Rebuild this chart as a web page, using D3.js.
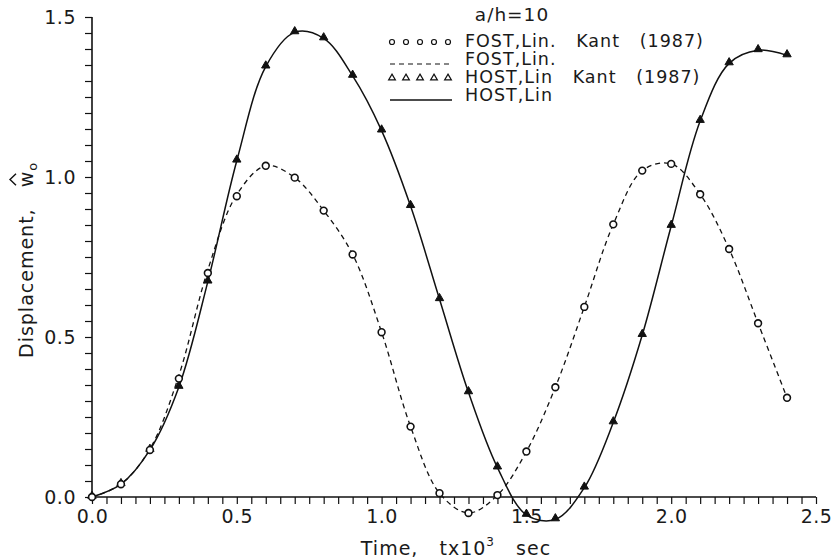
<!DOCTYPE html>
<html>
<head>
<meta charset="utf-8">
<script src="https://cdn.jsdelivr.net/npm/d3@7"></script>
<style>
  html, body { margin: 0; padding: 0; background: #fff; }
  svg text { font-family: "DejaVu Sans", "Liberation Sans", Arial, sans-serif; fill: #1a1a1a; }
</style>
</head>
<body>
<svg id="chart" width="836" height="560"></svg>
<script>
// ---- data ----
const times = [0.0,0.1,0.2,0.3,0.4,0.5,0.6,0.7,0.8,0.9,1.0,1.1,1.2,1.3,1.4,1.5,1.6,1.7,1.8,1.9,2.0,2.1,2.2,2.3,2.4];
const fostKant = [0.0,0.04,0.147,0.37,0.70,0.94,1.035,0.998,0.895,0.758,0.515,0.22,0.012,-0.05,0.006,0.142,0.343,0.594,0.852,1.02,1.041,0.946,0.775,0.543,0.31];
const fostLin  = [0.0,0.04,0.150,0.38,0.71,0.945,1.035,0.998,0.895,0.758,0.515,0.22,0.012,-0.05,0.006,0.142,0.343,0.594,0.852,1.02,1.041,0.946,0.775,0.543,0.31];
const hostKant = [0.0,0.04,0.147,0.344,0.673,1.051,1.345,1.452,1.433,1.316,1.145,0.909,0.618,0.327,0.092,-0.056,-0.07,0.029,0.233,0.506,0.847,1.175,1.355,1.396,1.38];
const hostLin  = [0.0,0.04,0.147,0.344,0.673,1.051,1.345,1.452,1.433,1.316,1.145,0.909,0.618,0.327,0.092,-0.056,-0.07,0.029,0.233,0.506,0.847,1.175,1.355,1.396,1.38];
const xTickLabels = ["0.0","0.5","1.0","1.5","2.0","2.5"];
const yTickLabels = ["0.0","0.5","1.0","1.5"];
const legendTitle = "a/h=10";
const legendLabels = ["FOST,Lin.   Kant   (1987)", "FOST,Lin.", "HOST,Lin   Kant   (1987)", "HOST,Lin"];

// ---- layout ----
const svg = d3.select("#chart");
const x = d3.scaleLinear().domain([0, 2.5]).range([92, 816]);
const y = d3.scaleLinear().domain([0, 1.5]).range([497, 17]);
const ink = "#111";
const FONT = "DejaVu Sans, Liberation Sans, sans-serif";

// x axis
const xTicks = d3.range(0, 51).map(i => i * 0.05);
const xAxis = d3.axisBottom(x).tickValues(xTicks).tickSize(7)
  .tickFormat((d, i) => (i % 10 === 0 ? xTickLabels[i / 10] : ""));
const gx = svg.append("g").attr("transform", `translate(0,${y(0)})`).call(xAxis);
gx.select(".domain").attr("stroke", ink).attr("stroke-width", 1.6).attr("d", `M${x(0)},0H${x(2.5)}`);
gx.selectAll(".tick line").attr("stroke", ink).attr("stroke-width", 1.2);
gx.selectAll(".tick text").attr("font-size", 19).attr("dy", "0.85em").attr("fill", "#1a1a1a")
  .attr("font-family", FONT).attr("letter-spacing", "0.5px");

// y axis
const yTicks = d3.range(0, 31).map(i => i * 0.05);
const yAxis = d3.axisLeft(y).tickValues(yTicks).tickSize(7)
  .tickFormat((d, i) => (i % 10 === 0 ? yTickLabels[i / 10] : ""));
const gy = svg.append("g").attr("transform", `translate(${x(0)},0)`).call(yAxis);
gy.select(".domain").attr("stroke", ink).attr("stroke-width", 1.6).attr("d", `M0,${y(0)}V${y(1.5)}`);
gy.selectAll(".tick line").attr("stroke", ink).attr("stroke-width", 1.2);
gy.selectAll(".tick text").attr("font-size", 19).attr("x", -16).attr("fill", "#1a1a1a")
  .attr("font-family", FONT).attr("letter-spacing", "0.5px");

// axis titles
const xt = svg.append("text").attr("x", 456).attr("y", 555).attr("text-anchor", "middle")
  .attr("font-size", 19).attr("letter-spacing", "1px").style("white-space", "pre");
xt.append("tspan").text("Time,   tx10");
xt.append("tspan").attr("font-size", 12).attr("dy", -9).text("3");
xt.append("tspan").attr("dy", 9).text("   sec");

const LS = 1;
const yt = svg.append("g").attr("transform", "translate(33,358) rotate(-90)");
const ytt = yt.append("text").attr("x", 0).attr("y", 0).attr("font-size", 19)
  .attr("letter-spacing", LS + "px").style("white-space", "pre");
ytt.append("tspan").text("Displacement,   ");
ytt.append("tspan").text("w");
ytt.append("tspan").attr("font-size", 13).attr("dy", 4).text("o");
const measure = yt.append("text").attr("font-size", 19).attr("letter-spacing", LS + "px")
  .style("white-space", "pre").attr("visibility", "hidden");
const preLen = measure.text("Displacement,   ").node().getComputedTextLength();
const wLen = measure.text("w").node().getComputedTextLength() - LS;
measure.remove();
// hat over w
yt.append("path")
  .attr("d", `M${preLen + 2},-17L${preLen + wLen / 2},-23L${preLen + wLen - 2},-17`)
  .attr("fill", "none").attr("stroke", ink).attr("stroke-width", 1.4);

// curves
const line = d3.line().x(d => x(d[0])).y(d => y(d[1])).curve(d3.curveCatmullRom.alpha(0.5));
svg.append("path").datum(times.map((t, i) => [t, fostLin[i]]))
  .attr("d", line).attr("fill", "none").attr("stroke", ink).attr("stroke-width", 1.3)
  .attr("stroke-dasharray", "5,4");
svg.append("path").datum(times.map((t, i) => [t, hostLin[i]]))
  .attr("d", line).attr("fill", "none").attr("stroke", ink).attr("stroke-width", 1.5);

// markers
const tri = d3.symbol().type(d3.symbolTriangle).size(30);
svg.append("g").selectAll("path").data(times.map((t, i) => [t, hostKant[i]])).join("path")
  .attr("d", tri).attr("transform", d => `translate(${x(d[0])},${y(d[1]) - 1})`)
  .attr("fill", ink).attr("stroke", ink).attr("stroke-width", 1);
svg.append("g").selectAll("circle").data(times.map((t, i) => [t, fostKant[i]])).join("circle")
  .attr("cx", d => x(d[0])).attr("cy", d => y(d[1])).attr("r", 3.4)
  .attr("fill", "#fff").attr("stroke", ink).attr("stroke-width", 1.6);

// legend
const lg = svg.append("g");
lg.append("text").attr("x", 512).attr("y", 21).attr("text-anchor", "middle").attr("font-size", 18.5)
  .attr("letter-spacing", "1px").text(legendTitle);
const rowY = [41, 59, 77, 95];
const lx0 = 392, lx1 = 450;
legendLabels.forEach((lab, i) => {
  lg.append("text").attr("x", 465).attr("y", rowY[i] + 6).attr("font-size", 17.5)
    .attr("letter-spacing", "1px").style("white-space", "pre").text(lab);
});
const mk = d3.range(5).map(k => lx0 + k * 14);
lg.append("g").selectAll("circle").data(mk).join("circle")
  .attr("cx", d => d).attr("cy", rowY[0] + 1).attr("r", 2.5)
  .attr("fill", "#fff").attr("stroke", ink).attr("stroke-width", 1.2);
lg.append("line").attr("x1", lx0 - 2).attr("x2", lx1 + 2).attr("y1", rowY[1] + 5).attr("y2", rowY[1] + 5)
  .attr("stroke", ink).attr("stroke-width", 1.2).attr("stroke-dasharray", "5,4");
const tri2 = d3.symbol().type(d3.symbolTriangle).size(20);
lg.append("g").selectAll("path").data(mk).join("path")
  .attr("d", tri2).attr("transform", d => `translate(${d},${rowY[2] + 1})`)
  .attr("fill", "#fff").attr("stroke", ink).attr("stroke-width", 1.2);
lg.append("line").attr("x1", lx0 - 2).attr("x2", lx1 + 2).attr("y1", rowY[3] + 5).attr("y2", rowY[3] + 5)
  .attr("stroke", ink).attr("stroke-width", 1.3);
</script>
</body>
</html>
